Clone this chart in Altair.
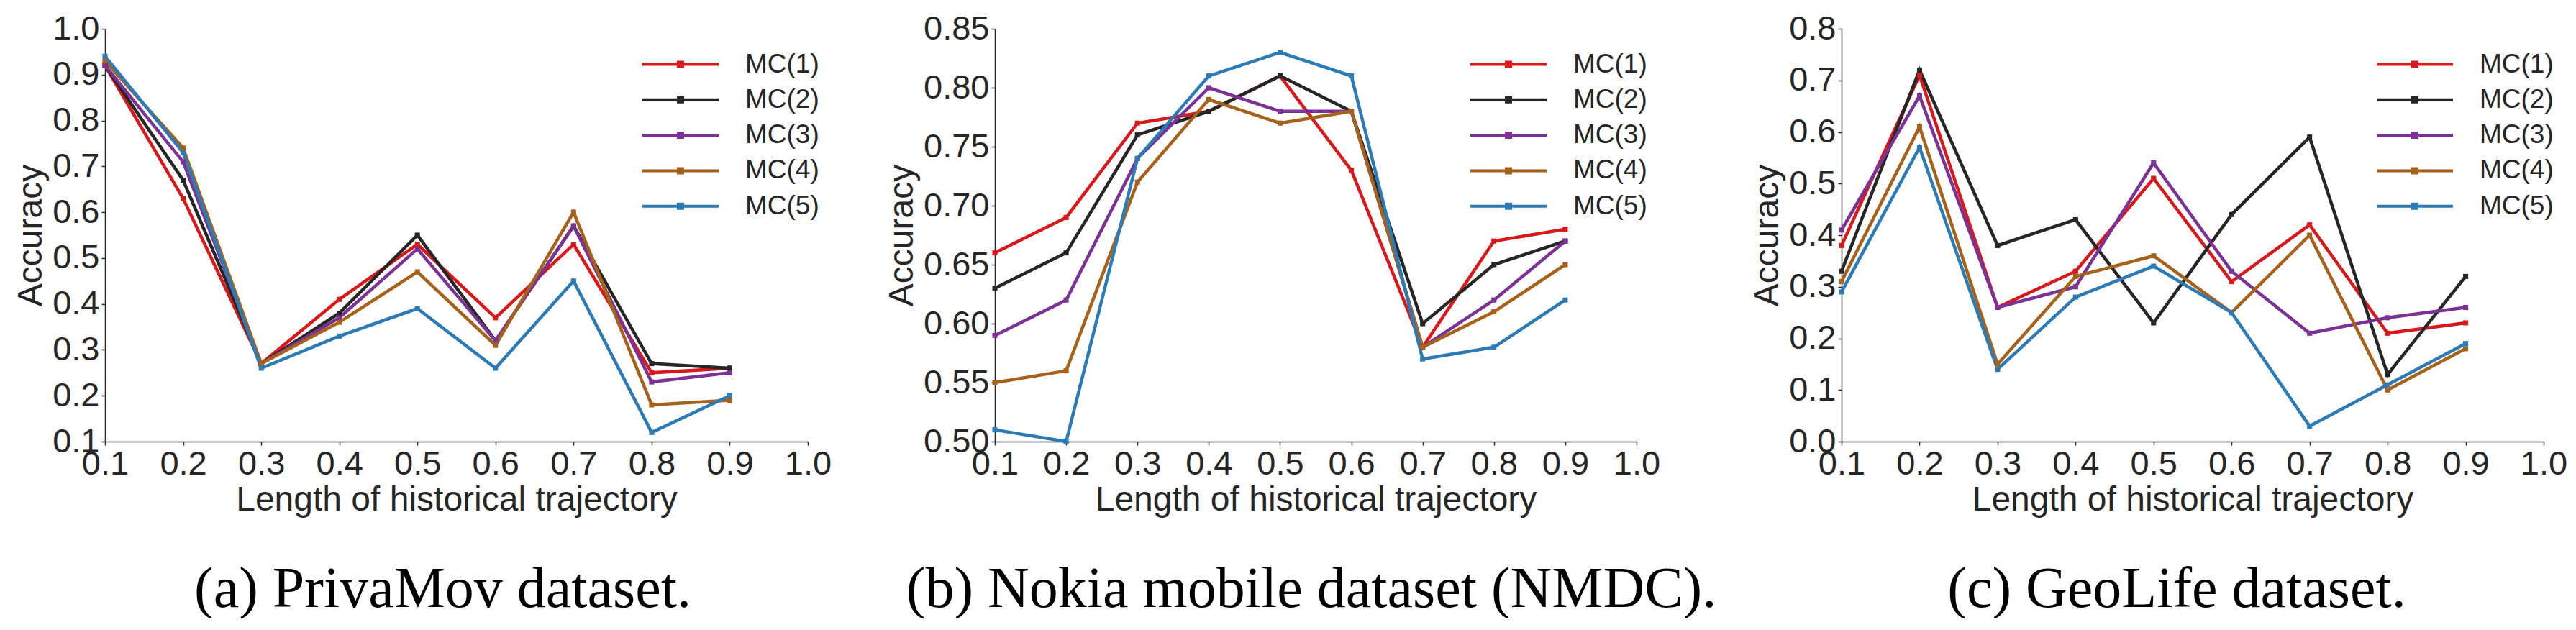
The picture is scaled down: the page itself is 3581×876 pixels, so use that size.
import altair as alt
import pandas as pd

x_vals = [0.1, 0.2, 0.3, 0.4, 0.5, 0.6, 0.7, 0.8, 0.9]
series = ["MC(1)", "MC(2)", "MC(3)", "MC(4)", "MC(5)"]
colors = ["#d7191c", "#262626", "#7b3294", "#a6611a", "#2c7bb6"]
x_ticks = [0.1, 0.2, 0.3, 0.4, 0.5, 0.6, 0.7, 0.8, 0.9, 1.0]

# (a) PrivaMov
priva_mc1 = [0.92, 0.63, 0.27, 0.41, 0.53, 0.37, 0.53, 0.25, 0.26]
priva_mc2 = [0.92, 0.67, 0.27, 0.38, 0.55, 0.32, 0.57, 0.27, 0.26]
priva_mc3 = [0.92, 0.71, 0.27, 0.37, 0.52, 0.32, 0.57, 0.23, 0.25]
priva_mc4 = [0.93, 0.74, 0.27, 0.36, 0.47, 0.31, 0.60, 0.18, 0.19]
priva_mc5 = [0.94, 0.73, 0.26, 0.33, 0.39, 0.26, 0.45, 0.12, 0.20]
priva_yticks = [0.1, 0.2, 0.3, 0.4, 0.5, 0.6, 0.7, 0.8, 0.9, 1.0]

# (b) Nokia mobile dataset (NMDC)
nokia_mc1 = [0.66, 0.69, 0.77, 0.78, 0.81, 0.73, 0.58, 0.67, 0.68]
nokia_mc2 = [0.63, 0.66, 0.76, 0.78, 0.81, 0.78, 0.60, 0.65, 0.67]
nokia_mc3 = [0.59, 0.62, 0.74, 0.80, 0.78, 0.78, 0.58, 0.62, 0.67]
nokia_mc4 = [0.55, 0.56, 0.72, 0.79, 0.77, 0.78, 0.58, 0.61, 0.65]
nokia_mc5 = [0.51, 0.50, 0.74, 0.81, 0.83, 0.81, 0.57, 0.58, 0.62]
nokia_yticks = [0.50, 0.55, 0.60, 0.65, 0.70, 0.75, 0.80, 0.85]

# (c) GeoLife
geo_mc1 = [0.38, 0.71, 0.26, 0.33, 0.51, 0.31, 0.42, 0.21, 0.23]
geo_mc2 = [0.33, 0.72, 0.38, 0.43, 0.23, 0.44, 0.59, 0.13, 0.32]
geo_mc3 = [0.41, 0.67, 0.26, 0.30, 0.54, 0.33, 0.21, 0.24, 0.26]
geo_mc4 = [0.31, 0.61, 0.15, 0.32, 0.36, 0.25, 0.40, 0.10, 0.18]
geo_mc5 = [0.29, 0.57, 0.14, 0.28, 0.34, 0.25, 0.03, 0.11, 0.19]
geo_yticks = [0.0, 0.1, 0.2, 0.3, 0.4, 0.5, 0.6, 0.7, 0.8]

SANS = "Liberation Sans, Arial, sans-serif"
SERIF = "Liberation Serif, Times New Roman, serif"
TXT = "#262626"

# legend symbol: a short line with a small square in the middle
LEGEND_SYMBOL = "M-5.3,0H5.3M-0.3,-0.3H0.3V0.3H-0.3Z"


def make_df(cols):
    rows = []
    for name, vals in zip(series, cols):
        for xv, yv in zip(x_vals, vals):
            rows.append({"length": xv, "accuracy": yv, "series": name})
    return pd.DataFrame(rows)


def panel(cols, ydomain, yticks, yfmt, caption, dx, width, legend_x):
    df = make_df(cols)
    base = alt.Chart(df)
    x = alt.X(
        "length:Q",
        scale=alt.Scale(domain=[0.1, 1.0], nice=False, zero=False),
        axis=alt.Axis(values=x_ticks, format=".1f", title="Length of historical trajectory"),
    )
    y = alt.Y(
        "accuracy:Q",
        scale=alt.Scale(domain=ydomain, nice=False, zero=False),
        axis=alt.Axis(values=yticks, format=yfmt, title="Accuracy"),
    )
    color_leg = alt.Color(
        "series:N",
        scale=alt.Scale(domain=series, range=colors),
        legend=alt.Legend(
            orient="none",
            legendX=legend_x,
            legendY=31,
            title=None,
            symbolType=LEGEND_SYMBOL,
            symbolSize=400,
            symbolStrokeWidth=4,
            labelFont=SANS,
            labelFontSize=37,
            labelColor=TXT,
            labelOffset=71.5,
            rowPadding=11.3,
            padding=0,
        ),
    )
    color_pts = alt.Color("series:N", scale=alt.Scale(domain=series, range=colors), legend=None)
    lines = base.mark_line(strokeWidth=4.5).encode(x=x, y=y, color=color_leg)
    pts = base.mark_point(shape="square", filled=True, size=50, opacity=1).encode(
        x=x, y=y, color=color_pts
    )
    return alt.layer(lines, pts).properties(
        width=width,
        height=574,
        title=alt.TitleParams(
            caption,
            orient="bottom",
            anchor="middle",
            frame="group",
            font=SERIF,
            fontSize=80,
            fontWeight="normal",
            color="#000000",
            offset=62,
            dx=dx,
        ),
    )


pa = panel([priva_mc1, priva_mc2, priva_mc3, priva_mc4, priva_mc5],
           [0.1, 1.0], priva_yticks, ".1f", "(a) PrivaMov dataset.", -19, 977, 781.5)
pb = panel([nokia_mc1, nokia_mc2, nokia_mc3, nokia_mc4, nokia_mc5],
           [0.5, 0.85], nokia_yticks, ".2f", "(b) Nokia mobile dataset (NMDC).", -6, 892, 695.5)
pc = panel([geo_mc1, geo_mc2, geo_mc3, geo_mc4, geo_mc5],
           [0.0, 0.8], geo_yticks, ".1f", "(c) GeoLife dataset.", -22, 976, 778.5)

inner = alt.hconcat(pa, pb, spacing=74).resolve_scale(color="independent")
chart = alt.hconcat(inner, pc, spacing=46).resolve_scale(color="independent").properties(
    padding={"left": 11, "top": 8, "right": 0, "bottom": 0}
).configure_view(stroke=None).configure_axis(
    domainColor=TXT,
    domainWidth=1.5,
    tickColor=TXT,
    tickWidth=1.5,
    tickSize=5,
    grid=False,
    labelFont=SANS,
    labelFontSize=47,
    labelColor=TXT,
    labelPadding=3,
    labelFlush=False,
    labelOverlap=False,
    titleFont=SANS,
    titleFontSize=48,
    titleFontWeight="normal",
    titleColor=TXT,
).configure_axisY(titlePadding=5).configure_axisX(titlePadding=3)

chart.save("out.html", embed_options={"renderer": "svg", "actions": False})
